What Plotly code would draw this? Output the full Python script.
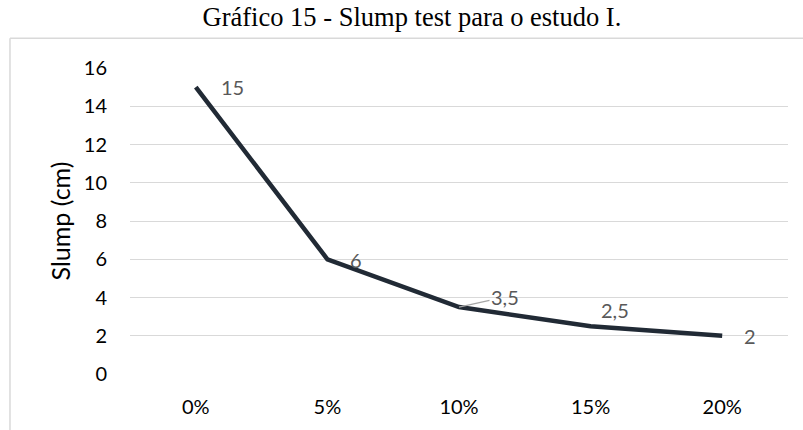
import plotly.graph_objects as go

categories = ["0%", "5%", "10%", "15%", "20%"]
slump = [15, 6, 3.5, 2.5, 2]
y_ticks = [0, 2, 4, 6, 8, 10, 12, 14, 16]

def fmt(v):
    s = ("%g" % v)
    return s.replace(".", ",")

LBL = dict(family="Lato", size=20, color="#595959")

fig = go.Figure()
fig.add_trace(go.Scatter(
    x=categories, y=slump, mode="lines",
    line=dict(color="#212a35", width=4.5),
    hoverinfo="skip", showlegend=False,
))

# label offsets (pixels) per point: (xshift, yshift, arrow)
label_style = [
    (37, 0, False),
    (29, -1, False),
    (None, None, True),
    (24, 16, False),
    (28, 0, False),
]
for cat, val, st in zip(categories, slump, label_style):
    xs, ys, arrow = st
    if arrow:
        fig.add_annotation(x=cat, y=val, xref="x", yref="y", text=fmt(val),
                           showarrow=True, arrowhead=0, arrowwidth=1.2,
                           arrowcolor="#a6a6a6", ax=46, ay=-10,
                           font=LBL)
    else:
        fig.add_annotation(x=cat, y=val, xref="x", yref="y", text=fmt(val),
                           showarrow=False, xshift=xs, yshift=ys,
                           font=LBL)

# chart border (light grey)
fig.add_shape(type="line", xref="paper", yref="paper",
              x0=-0.1824, x1=1.03, y0=1.097, y1=1.097,
              line=dict(color="#d9d9d9", width=1.5))
fig.add_shape(type="line", xref="paper", yref="paper",
              x0=-0.1824, x1=-0.1824, y0=1.097, y1=-0.2,
              line=dict(color="#d9d9d9", width=1.5))

fig.update_layout(
    width=803, height=430,
    margin=dict(l=130, r=15, t=68, b=53),
    paper_bgcolor="white", plot_bgcolor="white",
    title=dict(text="Gráfico 15 - Slump test para o estudo I.",
               x=0.513, xanchor="center", y=0.962, yanchor="middle",
               font=dict(family="Liberation Serif", size=26.5, color="black")),
    font=dict(family="Lato", size=20, color="black"),
    xaxis=dict(type="category", range=[-0.5, 4.5], showgrid=False,
               showline=False, zeroline=False, ticks="",
               ticklabelstandoff=19,
               tickfont=dict(family="Lato", size=20, color="black")),
    yaxis=dict(range=[0, 16], tickvals=y_ticks, showgrid=True,
               gridcolor="#d9d9d9", gridwidth=1.2, zeroline=False,
               showline=False, ticks="", ticklabelstandoff=22,
               tickfont=dict(family="Lato", size=20, color="black"),
               title=dict(text="Slump (cm)", standoff=6,
                          font=dict(family="Lato", size=25, color="black"))),
)

fig.write_html("out.html", config={"displayModeBar": False},
               post_script="document.body.style.margin='0px';document.body.style.overflow='hidden';")
